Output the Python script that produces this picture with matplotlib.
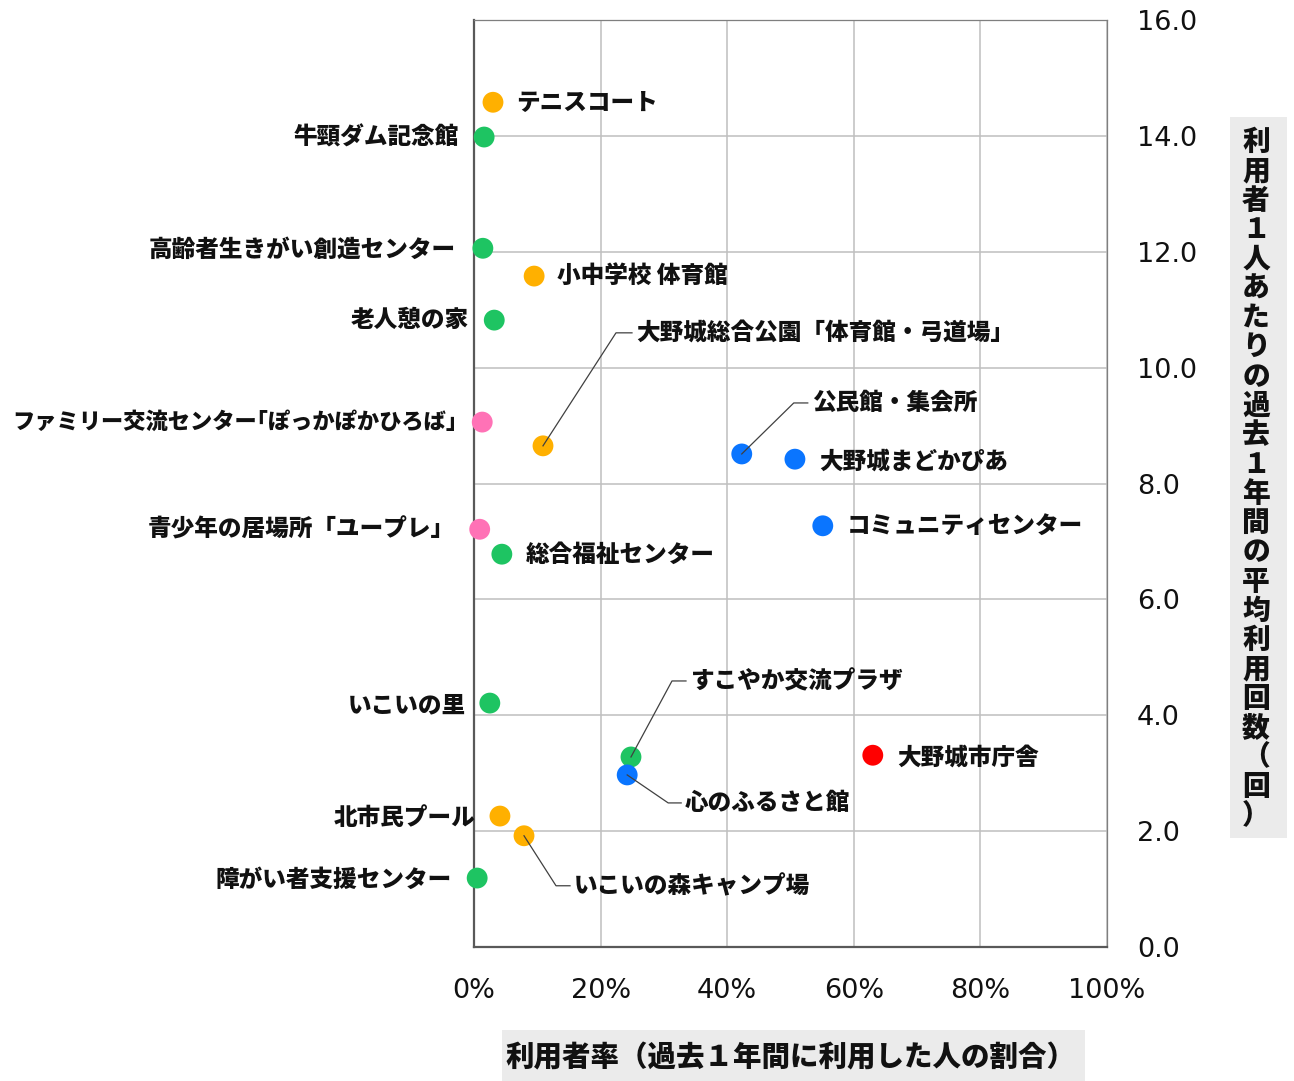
import matplotlib
matplotlib.use('Agg')
import matplotlib.pyplot as plt
from matplotlib.lines import Line2D
from matplotlib.patches import Rectangle
from matplotlib.transforms import IdentityTransform

# ---------------- data ----------------
names = [
    'テニスコート', '牛頸ダム記念館', '高齢者生きがい創造センター', '小中学校 体育館',
    '老人憩の家', 'ファミリー交流センター｢ぽっかぽかひろば｣', '大野城総合公園「体育館・弓道場」',
    '公民館・集会所', '大野城まどかぴあ', 'コミュニティセンター', '青少年の居場所「ユープレ」',
    '総合福祉センター', 'いこいの里', 'すこやか交流プラザ', '大野城市庁舎', '心のふるさと館',
    '北市民プール', 'いこいの森キャンプ場', '障がい者支援センター',
]
usage_rate = [3.0, 1.6, 1.4, 9.5, 3.2, 1.3, 10.9, 42.3, 50.7, 55.1, 0.9,
              4.4, 2.5, 24.8, 63.0, 24.2, 4.1, 7.9, 0.5]          # %
avg_uses = [14.58, 13.98, 12.06, 11.58, 10.82, 9.06, 8.65, 8.51, 8.42, 7.27, 7.21,
            6.78, 4.21, 3.28, 3.31, 2.97, 2.26, 1.92, 1.19]       # times
groups = ['sport', 'welfare', 'welfare', 'sport', 'welfare', 'youth', 'sport',
          'community', 'community', 'community', 'youth', 'welfare', 'welfare',
          'welfare', 'hall', 'community', 'sport', 'sport', 'welfare']

x_ticks = [0, 20, 40, 60, 80, 100]
y_ticks = [0, 2, 4, 6, 8, 10, 12, 14, 16]
x_label = '利用者率（過去１年間に利用した人の割合）'
y_label = '利用者１人あたりの過去１年間の平均利用回数（回）'

# ---------------- style / layout ----------------
colors = {'sport': '#FFB000', 'welfare': '#1EC462', 'community': '#0A75FF',
          'youth': '#FF72B6', 'hall': '#FF0000'}
# label offsets in pixels (dx, dy up), alignment, optional elbow offset, font size
layout = {
    'テニスコート': (23, 0, 'left', None, 17),
    '牛頸ダム記念館': (-25, 0, 'right', None, 17),
    '高齢者生きがい創造センター': (-27, -1, 'right', None, 17),
    '小中学校 体育館': (23, 0, 'left', None, 17),
    '老人憩の家': (-25, 0, 'right', None, 17),
    'ファミリー交流センター｢ぽっかぽかひろば｣': (-25, 0, 'right', None, 16),
    '大野城総合公園「体育館・弓道場」': (93, 113, 'left', (73, 113), 17),
    '公民館・集会所': (70, 51, 'left', (52, 51), 17),
    '大野城まどかぴあ': (24, -2, 'left', None, 17),
    'コミュニティセンター': (24, 0, 'left', None, 17),
    '青少年の居場所「ユープレ」': (-25, 0, 'right', None, 17),
    '総合福祉センター': (24, 0, 'left', None, 17),
    'いこいの里': (-24, -2, 'right', None, 17),
    'すこやか交流プラザ': (59, 76, 'left', (41, 76), 17),
    '大野城市庁舎': (24, -2, 'left', None, 17),
    '心のふるさと館': (58, -28, 'left', (41, -28), 17),
    '北市民プール': (-24, -2, 'right', None, 17),
    'いこいの森キャンプ場': (50, -50, 'left', (32, -50), 17),
    '障がい者支援センター': (-25, -2, 'right', None, 17),
}

JP = ['Noto Sans CJK JP', 'DejaVu Sans']
W, H = 1294, 1081
fig = plt.figure(figsize=(W / 100, H / 100), dpi=100)
ax = fig.add_axes([474 / W, 134 / H, 633 / W, 927 / H])

ax.set_xlim(0, 100)
ax.set_ylim(0, 16)
ax.set_xticks(x_ticks)
ax.set_xticklabels([f'{t}%' for t in x_ticks])
ax.set_yticks(y_ticks)
ax.set_yticklabels([f'{t:.1f}' for t in y_ticks])
ax.yaxis.tick_right()
ax.tick_params(axis='both', length=0, labelsize=19.5, colors='#111111')
ax.tick_params(axis='y', pad=21.5)
ax.tick_params(axis='x', pad=22)
for lab in ax.get_xticklabels() + ax.get_yticklabels():
    lab.set_family('DejaVu Sans')

ax.grid(True, color='#BFBFBF', linewidth=1.1)
ax.set_axisbelow(True)
for s in ['left', 'bottom']:
    ax.spines[s].set_color('#595959')
    ax.spines[s].set_linewidth(1.6)
for s in ['top', 'right']:
    ax.spines[s].set_color('#7F7F7F')
    ax.spines[s].set_linewidth(0.9)

ax.scatter(usage_rate, avg_uses, s=225, c=[colors[g] for g in groups],
           linewidths=0, zorder=3, clip_on=False)

for n, xv, yv in zip(names, usage_rate, avg_uses):
    dx, dy, ha, elbow, fs = layout[n]
    ax.annotate(n, xy=(xv, yv), xytext=(dx, dy), textcoords='offset pixels',
                ha=ha, va='center', fontsize=fs, fontweight='heavy',
                family=JP, color='#111111', zorder=4)
    if elbow is not None:
        px, py = ax.transData.transform((xv, yv))
        ex, ey = px + elbow[0], py + elbow[1]
        lx = px + dx - 4
        fig.add_artist(Line2D([px, ex, lx], [py, ey, ey], color='#404040',
                              linewidth=0.9, transform=IdentityTransform(), zorder=5))

# x-axis title with grey box
fig.add_artist(Rectangle((502, 0), 583, 51, facecolor='#EBEBEB', edgecolor='none',
                         transform=IdentityTransform(), zorder=0))
fig.text(790 / W, 1 - 1058 / H, x_label, ha='center', va='center', fontsize=20.5,
         fontweight='heavy', family=JP, color='#111111')

# y-axis title, stacked vertically, grey box
fig.add_artist(Rectangle((1230, H - 838), 57, 721, facecolor='#EBEBEB', edgecolor='none',
                         transform=IdentityTransform(), zorder=0))
for i, ch in enumerate(y_label):
    cy = 142 + i * 29.3
    fig.text(1256 / W, 1 - cy / H, ch, ha='center', va='center', fontsize=20,
             fontweight='heavy', family=JP, color='#111111')

fig.savefig('out.png', dpi=100)
